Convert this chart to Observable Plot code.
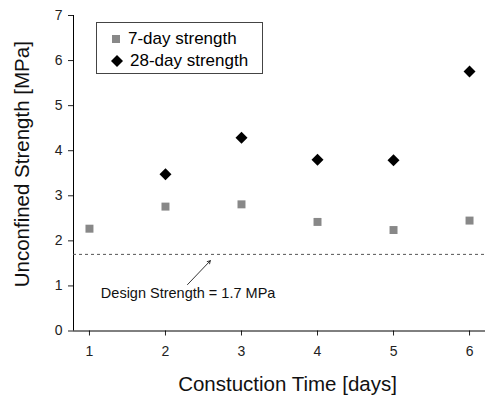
<!DOCTYPE html>
<html>
<head>
<meta charset="utf-8">
<script src="https://cdn.jsdelivr.net/npm/d3@7"></script>
<script src="https://cdn.jsdelivr.net/npm/@observablehq/plot@0.6"></script>
<style>
  body { margin: 0; background: #fff; font-family: "Liberation Sans", Arial, sans-serif; }
  #wrap { position: relative; width: 485px; height: 396px; }
  #legend { position: absolute; left: 96px; top: 22px; width: 167px; height: 52px; border: 1px solid #444; box-sizing: border-box; background: #fff; font-size: 17px; color: #000; }
  .item { position: absolute; left: 0; height: 20px; display: flex; align-items: center; white-space: nowrap; }
  .item svg { margin-left: 14px; margin-right: 7px; }
</style>
</head>
<body>
<div id="wrap"></div>
<script>
const days = [1, 2, 3, 4, 5, 6];
const strength7 = [2.27, 2.76, 2.81, 2.42, 2.24, 2.45];
const days28 = [2, 3, 4, 5, 6];
const strength28 = [3.48, 4.29, 3.80, 3.79, 5.76];
const designStrength = 1.7;
const designLabel = "Design Strength = 1.7 MPa";
const arrowFrom = {x: 2.29, y: 1.03};
const arrowTo = {x: 2.59, y: 1.56};
const labelPos = {x: 1.15, y: 0.84};
const xTicks = [1, 2, 3, 4, 5, 6];
const yTicks = [0, 1, 2, 3, 4, 5, 6, 7];
const xTitle = "Constuction Time [days]";
const yTitle = "Unconfined Strength [MPa]";
const seriesNames = ["7-day strength", "28-day strength"];

const d7 = days.map((d, i) => ({day: d, v: strength7[i]}));
const d28 = days28.map((d, i) => ({day: d, v: strength28[i]}));

const chart = Plot.plot({
  width: 485,
  height: 396,
  marginLeft: 73,
  marginTop: 15,
  marginBottom: 65.5,
  marginRight: 0,
  style: {fontFamily: "Liberation Sans, Arial, sans-serif", color: "#222", background: "#fff"},
  x: {domain: [0.79, 6.21]},
  y: {domain: [0, 7]},
  marks: [
    Plot.axisX({ticks: xTicks, tickSize: 5, tickPadding: 10, fontSize: 14, label: null, tickFormat: d => d, stroke: "#222"}),
    Plot.axisY({ticks: yTicks, tickSize: 5, tickPadding: 6, fontSize: 14, label: null, tickFormat: d => d, stroke: "#222"}),
    Plot.ruleX([0.79], {stroke: "#000"}),
    Plot.ruleY([0], {stroke: "#000"}),
    Plot.ruleY([designStrength], {stroke: "#555", strokeDasharray: "3,3", strokeWidth: 1}),
    Plot.arrow([0], {x1: () => arrowFrom.x, y1: () => arrowFrom.y, x2: () => arrowTo.x, y2: () => arrowTo.y, stroke: "#000", strokeWidth: 0.8, headLength: 6}),
    Plot.text([designLabel], {x: labelPos.x, y: labelPos.y, text: d => d, textAnchor: "start", fontSize: 14.5, fill: "#111"}),
    Plot.dot(d7, {x: "day", y: "v", symbol: "square", r: 4.5, fill: "#888", stroke: "none"}),
    Plot.dot(d28, {x: "day", y: "v", symbol: "diamond2", r: 5.4, fill: "#000", stroke: "none"}),
    Plot.text([xTitle], {frameAnchor: "bottom", dy: 53, dx: 8, text: d => d, fontSize: 20.5, fill: "#111", lineAnchor: "middle"}),
    Plot.text([yTitle], {frameAnchor: "left", textAnchor: "middle", dx: -51, dy: -9, rotate: -90, text: d => d, fontSize: 20.5, fill: "#111", lineAnchor: "middle"})
  ]
});

const wrap = document.getElementById("wrap");
wrap.appendChild(chart);

const legend = document.createElement("div");
legend.id = "legend";
legend.innerHTML = `
  <div class="item" style="top:6px"><svg width="10" height="10"><rect x="1" y="1" width="8" height="8" fill="#888"/></svg><span>${seriesNames[0]}</span></div>
  <div class="item" style="top:28px"><svg width="12" height="12"><path d="M6 0L12 6L6 12L0 6Z" fill="#000"/></svg><span>${seriesNames[1]}</span></div>`;
wrap.appendChild(legend);
</script>
</body>
</html>
